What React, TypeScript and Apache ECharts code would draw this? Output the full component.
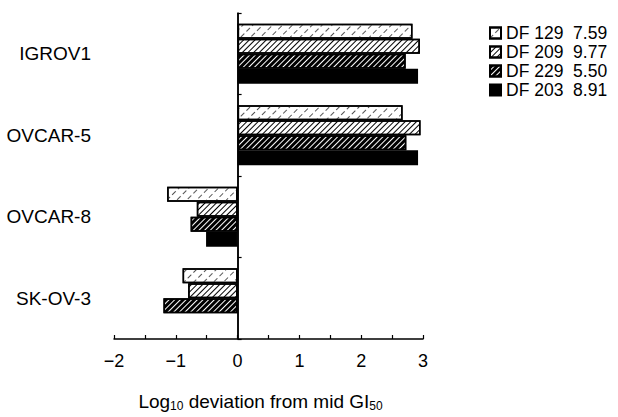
import React, { useEffect, useRef } from "react";
import * as echarts from "echarts";

const categories = ["IGROV1", "OVCAR-5", "OVCAR-8", "SK-OV-3"];
const seriesNames = [
  "DF\u00a0129\u00a0\u00a07.59",
  "DF\u00a0209\u00a0\u00a09.77",
  "DF\u00a0229\u00a0\u00a05.50",
  "DF\u00a0203\u00a0\u00a08.91",
];
const df129 = [2.83, 2.67, -1.14, -0.89];
const df209 = [2.95, 2.96, -0.66, -0.8];
const df229 = [2.72, 2.73, -0.76, -1.2];
const df203 = [2.92, 2.92, -0.51, null];
const xTicks = { min: -2, max: 3, interval: 1 };

const FONT = "Liberation Sans, Arial, Helvetica, sans-serif";

export default function App() {
  const ref = useRef<HTMLDivElement>(null);
  useEffect(() => {
    if (!ref.current) return;
    const chart = echarts.init(ref.current, undefined, { renderer: "svg", width: 618, height: 417 });
    const decals: any[] = [
      {
        symbol: "rect",
        symbolSize: 1,
        color: "#555",
        dashArrayX: [5, 3],
        dashArrayY: [1, 6],
        rotation: -Math.PI / 4,
      },
      {
        symbol: "rect",
        symbolSize: 1,
        color: "#000",
        dashArrayX: [1, 0],
        dashArrayY: [1, 2.5],
        rotation: -Math.PI / 4,
      },
      {
        symbol: "rect",
        symbolSize: 1,
        color: "#000",
        dashArrayX: [1, 0],
        dashArrayY: [2.5, 1],
        rotation: -Math.PI / 4,
      },
      null,
    ];
    const datas = [df129, df209, df229, df203];
    const series: any[] = datas.map((d, i) => ({
      type: "bar",
      name: seriesNames[i],
      data: d,
      barWidth: 15,
      barGap: "0%",
      itemStyle: {
        color: i === 3 ? "#000" : "#fff",
        borderColor: "#000",
        borderWidth: 1.5,
        ...(decals[i] ? { decal: decals[i] } : {}),
      },
      ...(i === 0
        ? {
            markLine: {
              silent: true,
              symbol: "none",
              label: { show: false },
              lineStyle: { color: "#000", type: "solid", width: 1.5 },
              data: [{ xAxis: 0 }],
            },
          }
        : {}),
    }));
    chart.setOption({
      animation: false,
      textStyle: { fontFamily: FONT, color: "#000" },
      grid: { left: 114, right: 195, top: 13, bottom: 62, containLabel: false },
      legend: {
        orient: "vertical",
        left: 489,
        top: 24,
        itemWidth: 11,
        itemHeight: 11,
        itemGap: 1,
        padding: 0,
        icon: "rect",
        textStyle: { fontSize: 17.5, color: "#000", fontFamily: FONT },
        data: seriesNames,
      },
      xAxis: {
        type: "value",
        min: xTicks.min,
        max: xTicks.max,
        interval: xTicks.interval,
        axisLine: { show: true, onZero: false, lineStyle: { color: "#000", width: 1.5 } },
        axisTick: { show: true, inside: true, length: 4, lineStyle: { color: "#000", width: 1.2 } },
        minorTick: { show: true, splitNumber: 2, length: 4, lineStyle: { color: "#000", width: 1.2 } },
        splitLine: { show: false },
        axisLabel: {
          fontSize: 18,
          color: "#000",
          margin: 13,
          fontFamily: FONT,
          formatter: (v: number) => String(v).replace("-", "\u2212"),
        },
        name: "Log{s|10} deviation from mid GI{s|50}",
        nameLocation: "middle",
        nameGap: 51,
        nameTextStyle: {
          fontSize: 19,
          color: "#000",
          fontFamily: FONT,
          lineHeight: 22,
          padding: [0, 16, 0, 0],
          rich: {
            s: { fontSize: 12, lineHeight: 8, verticalAlign: "bottom", fontFamily: FONT, color: "#000" },
          },
        },
      },
      yAxis: {
        type: "category",
        inverse: true,
        data: categories,
        axisLine: { show: true, lineStyle: { color: "#000", width: 1.5 } },
        axisTick: { show: true, inside: true, length: 4, lineStyle: { color: "#000", width: 1.2 } },
        axisLabel: {
          fontSize: 19,
          color: "#000",
          margin: 23,
          fontFamily: FONT,
          padding: [0, 0, 16, 0],
        },
        splitLine: { show: false },
      },
      series,
    });
    return () => chart.dispose();
  }, []);
  return (
    <div
      ref={ref}
      style={{ position: "fixed", left: 0, top: 0, width: 618, height: 417, background: "#fff" }}
    />
  );
}
